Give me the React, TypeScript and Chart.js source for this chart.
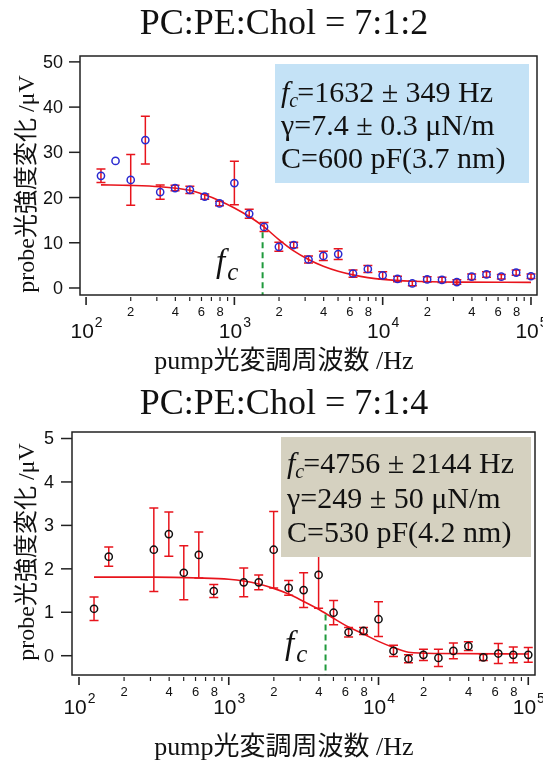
import React, { useEffect, useRef } from "react";
import { Chart, registerables } from "chart.js";
Chart.register(...registerables);

// ---------- data ----------
const titleTop = "PC:PE:Chol = 7:1:2";
const titleBottom = "PC:PE:Chol = 7:1:4";
const xAxisTitle = "pump光変調周波数 /Hz";
const yAxisTitle = "probe光強度変化 /μV";

const freqTop = [126, 158, 200, 251, 316, 398, 501, 631, 794, 1000, 1259, 1585, 1995, 2512, 3162, 3981, 5012, 6310, 7943, 10000, 12589, 15849, 19953, 25119, 31623, 39811, 50119, 63096, 79433, 100000];
const valTop = [24.8, 28.1, 23.9, 32.7, 21.2, 22.1, 21.7, 20.2, 18.7, 23.2, 16.4, 13.5, 9.1, 9.5, 6.3, 7.1, 7.5, 3.2, 4.2, 2.8, 2.0, 1.0, 1.9, 1.8, 1.3, 2.5, 3.0, 2.5, 3.4, 2.6];
const errTop = [1.5, 0, 5.6, 5.3, 1.6, 0.6, 0.8, 0.6, 0.5, 4.8, 1.0, 1.0, 1.0, 0.6, 0.8, 1.0, 1.2, 0.8, 0.8, 0.8, 0.6, 0.5, 0.6, 0.6, 0.5, 0.6, 0.6, 0.5, 0.6, 0.5];
const fitFreqTop = [126, 200, 316, 501, 631, 794, 1000, 1259, 1585, 1995, 2512, 3162, 3981, 5012, 6310, 7943, 10000, 15849, 31623, 100000];
const fitValTop = [22.8, 22.7, 22.4, 21.6, 20.6, 19.3, 17.7, 15.8, 13.5, 10.7, 8.2, 6.3, 4.8, 3.7, 2.9, 2.3, 1.9, 1.5, 1.3, 1.25];
const fcLineTop = { f: 1550, top: 12.3 };
const boxTextTop = ["=1632 ± 349 Hz", "γ=7.4 ± 0.3 μN/m", "C=600 pF(3.7 nm)"];
const yTicksTop = [0, 10, 20, 30, 40, 50];

const freqBot = [126, 158, 316, 398, 501, 631, 794, 1259, 1585, 1995, 2512, 3162, 3981, 5012, 6310, 7943, 10000, 12589, 15849, 19953, 25119, 31623, 39811, 50119, 63096, 79433, 100000];
const valBot = [1.08, 2.28, 2.44, 2.80, 1.91, 2.32, 1.49, 1.69, 1.69, 2.44, 1.56, 1.51, 1.86, 0.99, 0.54, 0.57, 0.84, 0.11, -0.07, 0.02, -0.05, 0.11, 0.22, -0.04, 0.05, 0.02, 0.02];
const errBot = [0.27, 0.22, 0.96, 0.51, 0.62, 0.53, 0.15, 0.33, 0.17, 0.88, 0.17, 0.40, 0.77, 0.28, 0.11, 0.08, 0.40, 0.13, 0.09, 0.13, 0.20, 0.18, 0.10, 0.07, 0.23, 0.18, 0.17];
const fitFreqBot = [126, 316, 631, 1000, 1259, 1585, 1995, 2512, 3162, 3981, 5012, 6310, 7943, 10000, 12589, 15849, 25119, 100000];
const fitValBot = [1.81, 1.81, 1.79, 1.76, 1.72, 1.65, 1.55, 1.42, 1.25, 1.07, 0.86, 0.66, 0.50, 0.33, 0.19, 0.08, 0.05, 0.04];
const fcLineBot = { f: 4430, top: 0.95 };
const boxTextBot = ["=4756 ± 2144 Hz", "γ=249 ± 50 μN/m", "C=530 pF(4.2 nm)"];
const yTicksBot = [0, 1, 2, 3, 4, 5];

// ---------- styling ----------
const SERIF = "'Liberation Serif', 'Times New Roman', 'Noto Sans CJK JP', serif";
const CJKSERIF = "'Liberation Serif', 'Noto Sans CJK JP', serif";
const SANS = "'Liberation Sans', Arial, sans-serif";
const RED = "#e8141c";

type Cfg = {
  title: string;
  freq: number[]; val: number[]; err: number[];
  fitF: number[]; fitV: number[];
  fc: { f: number; top: number };
  boxText: string[];
  yTicks: number[];
  pointColor: string;
  boxColor: string;
  xmin: number; xmax: number; ymin: number; ymax: number;
  pad: { left: number; right: number; top: number; bottom: number };
  box: { x: number; y: number; w: number; h: number; tx: number; base: number[] };
  fcLabel: { x: number; y: number };
  yLabelRight: number;
  decadeBase: number;
  xTitleBase: number;
  yTitleCenter: number;
};

function drawRich(ctx: CanvasRenderingContext2D, x: number, y: number, segs: { t: string; font: string; dy?: number; kern?: number }[]) {
  let cx = x;
  ctx.textAlign = "left";
  ctx.textBaseline = "alphabetic";
  for (const s of segs) {
    ctx.font = s.font;
    ctx.fillText(s.t, cx, y + (s.dy || 0));
    cx += ctx.measureText(s.t).width + (s.kern || 0);
  }
}

function makePlugin(cfg: Cfg) {
  return {
    id: "decor",
    beforeDatasetsDraw(chart: any) {
      const ctx: CanvasRenderingContext2D = chart.ctx;
      const xs = chart.scales.x, ys = chart.scales.y;
      const a = chart.chartArea;
      ctx.save();
      ctx.beginPath();
      ctx.rect(a.left, a.top, a.right - a.left, a.bottom - a.top);
      ctx.clip();
      ctx.strokeStyle = RED;
      ctx.lineWidth = 1.5;
      cfg.freq.forEach((f, i) => {
        const e = cfg.err[i];
        if (!e) return;
        const px = xs.getPixelForValue(f);
        const y1 = ys.getPixelForValue(cfg.val[i] + e);
        const y2 = ys.getPixelForValue(cfg.val[i] - e);
        ctx.beginPath();
        ctx.moveTo(px, y1); ctx.lineTo(px, y2);
        ctx.moveTo(px - 4.5, y1); ctx.lineTo(px + 4.5, y1);
        ctx.moveTo(px - 4.5, y2); ctx.lineTo(px + 4.5, y2);
        ctx.stroke();
      });
      ctx.restore();
    },
    afterDatasetsDraw(chart: any) {
      const ctx: CanvasRenderingContext2D = chart.ctx;
      const xs = chart.scales.x, ys = chart.scales.y;
      const a = chart.chartArea;
      ctx.save();
      // fc dashed line
      const fx = xs.getPixelForValue(cfg.fc.f);
      ctx.strokeStyle = "#1f9a3c";
      ctx.lineWidth = 2;
      ctx.setLineDash([6, 4]);
      ctx.beginPath();
      ctx.moveTo(fx, ys.getPixelForValue(cfg.fc.top));
      ctx.lineTo(fx, a.bottom);
      ctx.stroke();
      ctx.setLineDash([]);
      // box
      const b = cfg.box;
      ctx.fillStyle = cfg.boxColor;
      ctx.fillRect(b.x, b.y, b.w, b.h);
      ctx.fillStyle = "#111";
      drawRich(ctx, b.tx, b.base[0], [
        { t: "f", font: `italic 30px ${SERIF}`, kern: 0 },
        { t: "c", font: `italic 20px ${SERIF}`, dy: 5, kern: -1 },
        { t: cfg.boxText[0], font: `30px ${SERIF}` },
      ]);
      drawRich(ctx, b.tx, b.base[1], [{ t: cfg.boxText[1], font: `30px ${SERIF}` }]);
      drawRich(ctx, b.tx, b.base[2], [{ t: cfg.boxText[2], font: `30px ${SERIF}` }]);
      // fc label in plot
      drawRich(ctx, cfg.fcLabel.x, cfg.fcLabel.y, [
        { t: "f", font: `italic 33px ${SERIF}`, kern: 2 },
        { t: "c", font: `italic 25px ${SERIF}`, dy: 8 },
      ]);
      // frame
      ctx.strokeStyle = "#222";
      ctx.lineWidth = 1.5;
      ctx.strokeRect(a.left, a.top, a.right - a.left, a.bottom - a.top);
      ctx.restore();
    },
    afterDraw(chart: any) {
      const ctx: CanvasRenderingContext2D = chart.ctx;
      const xs = chart.scales.x, ys = chart.scales.y;
      const a = chart.chartArea;
      ctx.save();
      ctx.strokeStyle = "#222";
      ctx.fillStyle = "#111";
      // x ticks
      for (let d = 2; d <= 5; d++) {
        for (let m = 1; m <= 9; m++) {
          if (d === 5 && m > 1) break;
          const v = m * Math.pow(10, d);
          const px = xs.getPixelForValue(v);
          const major = m === 1;
          ctx.lineWidth = major ? 1.6 : 1.2;
          ctx.beginPath();
          ctx.moveTo(px, a.bottom + 2);
          ctx.lineTo(px, a.bottom + (major ? 10 : 6));
          ctx.stroke();
          if (!major && m % 2 === 0) {
            ctx.font = `13px ${SANS}`;
            ctx.textAlign = "center";
            ctx.textBaseline = "middle";
            ctx.fillText(String(m), px, a.bottom + 17);
          }
          if (major) {
            ctx.font = `21px ${SANS}`;
            const w1 = ctx.measureText("10").width;
            ctx.font = `14px ${SANS}`;
            const w2 = ctx.measureText(String(d)).width;
            const x0 = px - (w1 + w2) / 2;
            ctx.textAlign = "left";
            ctx.textBaseline = "alphabetic";
            ctx.font = `21px ${SANS}`;
            ctx.fillText("10", x0, a.bottom + cfg.decadeBase);
            ctx.font = `14px ${SANS}`;
            ctx.fillText(String(d), x0 + w1 + 1, a.bottom + cfg.decadeBase - 11);
          }
        }
      }
      // y ticks
      ctx.lineWidth = 1.5;
      cfg.yTicks.forEach((t) => {
        const py = ys.getPixelForValue(t);
        ctx.beginPath();
        ctx.moveTo(a.left - 11, py);
        ctx.lineTo(a.left, py);
        ctx.stroke();
        ctx.font = `18px ${SANS}`;
        ctx.textAlign = "right";
        ctx.textBaseline = "middle";
        ctx.fillText(String(t), cfg.yLabelRight, py + 1);
      });
      // title
      ctx.textAlign = "center";
      ctx.textBaseline = "alphabetic";
      ctx.font = `36px ${SERIF}`;
      ctx.fillText(cfg.title, 284, 34);
      // x title
      ctx.font = `26px ${CJKSERIF}`;
      ctx.fillText(xAxisTitle, 284, cfg.xTitleBase);
      // y title
      ctx.save();
      ctx.translate(28, cfg.yTitleCenter);
      ctx.rotate(-Math.PI / 2);
      ctx.textBaseline = "middle";
      ctx.font = `24px ${CJKSERIF}`;
      ctx.fillText(yAxisTitle, 0, 0);
      ctx.restore();
      ctx.restore();
    },
  };
}

const cfgTop: Cfg = {
  title: titleTop,
  freq: freqTop, val: valTop, err: errTop,
  fitF: fitFreqTop, fitV: fitValTop,
  fc: fcLineTop,
  boxText: boxTextTop,
  yTicks: yTicksTop,
  pointColor: "#2a2ad0",
  boxColor: "#c4e2f6",
  xmin: 91, xmax: 109800, ymin: -1.55, ymax: 51.3,
  pad: { left: 80, right: 6, top: 56, bottom: 85 },
  box: { x: 275, y: 64, w: 254, h: 119, tx: 281, base: [102, 135, 168] },
  fcLabel: { x: 216, y: 272 },
  yLabelRight: 63,
  decadeBase: 43,
  xTitleBase: 369,
  yTitleCenter: 184,
};

const cfgBot: Cfg = {
  title: titleBottom,
  freq: freqBot, val: valBot, err: errBot,
  fitF: fitFreqBot, fitV: fitValBot,
  fc: fcLineBot,
  boxText: boxTextBot,
  yTicks: yTicksBot,
  pointColor: "#111111",
  boxColor: "#d5d1c0",
  xmin: 89.8, xmax: 110900, ymin: -0.444, ymax: 5.15,
  pad: { left: 72, right: 8, top: 52, bottom: 85 },
  box: { x: 281, y: 57, w: 250, h: 120, tx: 287, base: [93, 128, 162] },
  fcLabel: { x: 285, y: 274 },
  yLabelRight: 54,
  decadeBase: 39,
  xTitleBase: 375,
  yTitleCenter: 172,
};

function Panel({ cfg }: { cfg: Cfg }) {
  const ref = useRef<HTMLCanvasElement>(null);
  useEffect(() => {
    if (!ref.current) return;
    const chart = new Chart(ref.current, {
      type: "scatter",
      data: {
        datasets: [
          {
            type: "scatter",
            data: cfg.freq.map((f, i) => ({ x: f, y: cfg.val[i] })),
            pointStyle: "circle",
            pointRadius: 3.6,
            borderColor: cfg.pointColor,
            backgroundColor: "rgba(0,0,0,0)",
            borderWidth: 1.5,
            order: 1,
          } as any,
          {
            type: "line",
            data: cfg.fitF.map((f, i) => ({ x: f, y: cfg.fitV[i] })),
            borderColor: RED,
            borderWidth: 1.6,
            pointRadius: 0,
            fill: false,
            cubicInterpolationMode: "monotone",
            order: 2,
          } as any,
        ],
      },
      options: {
        responsive: false,
        animation: false,
        events: [],
        layout: { padding: cfg.pad },
        plugins: { legend: { display: false }, tooltip: { enabled: false }, title: { display: false } },
        scales: {
          x: { type: "logarithmic", min: cfg.xmin, max: cfg.xmax, display: false },
          y: { type: "linear", min: cfg.ymin, max: cfg.ymax, display: false },
        },
      } as any,
      plugins: [makePlugin(cfg)],
    });
    return () => chart.destroy();
  }, [cfg]);
  return <canvas ref={ref} width={543} height={380} style={{ display: "block", width: 543, height: 380 }} />;
}

export default function App() {
  useEffect(() => {
    document.body.style.margin = "0";
  }, []);
  return (
    <div style={{ width: 543, height: 760, background: "#fff" }}>
      <Panel cfg={cfgTop} />
      <Panel cfg={cfgBot} />
    </div>
  );
}
